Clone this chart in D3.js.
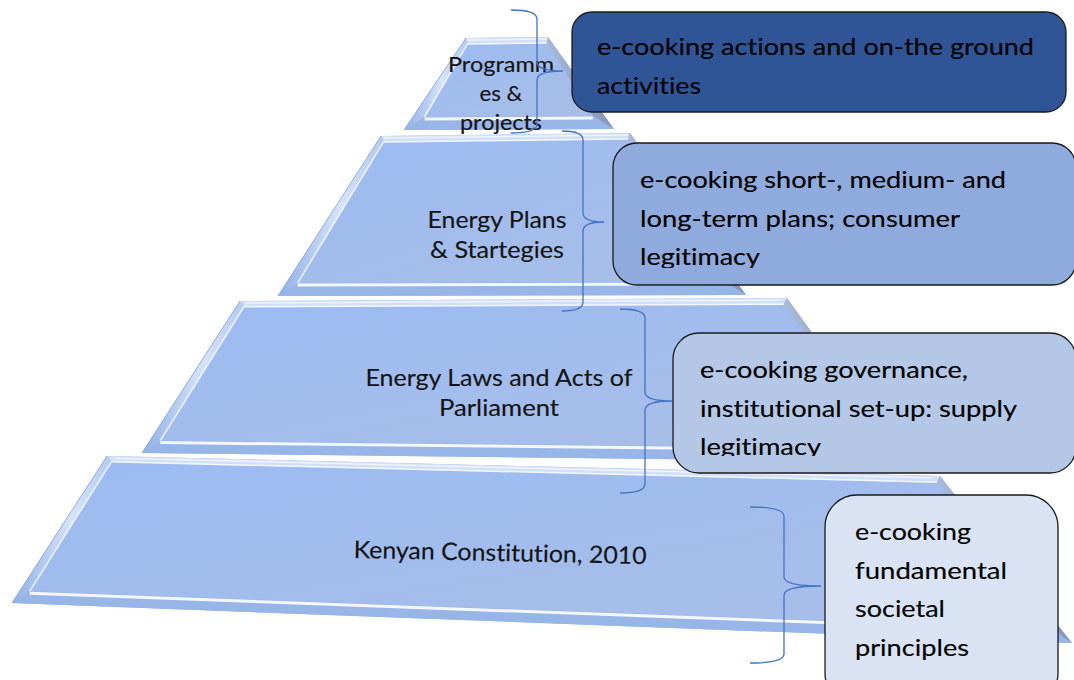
<!DOCTYPE html>
<html>
<head>
<meta charset="utf-8">
<script src="https://cdn.jsdelivr.net/npm/d3@7"></script>
<style>
  html, body { margin: 0; padding: 0; background: #fff; }
  svg { display: block; }
  text { font-family: Lato, "Open Sans", sans-serif; font-variant-ligatures: none; font-feature-settings: "liga" 0; }
</style>
</head>
<body>
<div id="chart"></div>
<script>
// ---- content ----
const tierLabels = [
  ["Programm", "es &", "projects"],
  ["Energy Plans", "& Startegies"],
  ["Energy Laws and Acts of", "Parliament"],
  ["Kenyan Constitution, 2010"]
];

const boxTexts = [
  ["e-cooking actions and on-the ground", "activities"],
  ["e-cooking short-, medium- and", "long-term plans; consumer", "legitimacy"],
  ["e-cooking governance,", "institutional set-up: supply", "legitimacy"],
  ["e-cooking", "fundamental", "societal", "principles"]
];

// ---- layout (pixels) ----
const width = 1074, height = 680;

// corners of each tier: top-left, top-right, bottom-right, bottom-left
const tierCorners = [
  [[466, 38], [548, 37], [614, 129], [404, 130]],
  [[381, 136], [630, 133], [746, 295], [278, 296]],
  [[240, 301], [787, 298], [905, 462], [142, 453]],
  [[107, 456], [940, 476], [1072, 643], [12, 603]]
];

const tierLabelLayout = [
  { cx: 501, base: 72, lineH: 29, size: 21, widths: [106, 43, 82], angle: 0 },
  { cx: 497, base: 228, lineH: 30, size: 23, widths: [139, 134], angle: 0 },
  { cx: 499, base: 386, lineH: 30, size: 23, widths: [267, 120], angle: 0 },
  { cx: 500, base: 561, lineH: 30, size: 24, widths: [293], angle: 1.2 }
];

const boxLayout = [
  { x: 572, y: 12, w: 494, h: 100, rx: 20, padX: 25, first: 43, lineH: 38.5, widths: [437, 104] },
  { x: 613, y: 143, w: 463, h: 142, rx: 24, padX: 27, first: 45, lineH: 38.5, widths: [366, 320, 120] },
  { x: 673, y: 333, w: 403, h: 140, rx: 26, padX: 27, first: 45, lineH: 38.5, widths: [268, 317, 121] },
  { x: 825, y: 495, w: 233, h: 210, rx: 32, padX: 30, first: 45, lineH: 38.5, widths: [116, 152, 90, 114] }
];
const boxFills = ["#2f5597", "#8faadc", "#b4c7e7", "#dae3f3"];

// curly braces: top end x0,y0 ; stem xs ; tip xt,ym ; bottom end y1
const braces = [
  { x0: 511, y0: 10, xs: 537, xt: 563, ym: 71, y1: 133 },
  { x0: 562, y0: 131, xs: 583, xt: 604, ym: 222, y1: 311 },
  { x0: 620, y0: 309, xs: 645, xt: 672, ym: 401, y1: 493 },
  { x0: 750, y0: 507, xs: 784, xt: 821, ym: 586, y1: 663 }
];

// ---- drawing ----
const svg = d3.select("#chart").append("svg")
  .attr("width", width)
  .attr("height", height);

const defs = svg.append("defs");

const faceGrad = defs.append("linearGradient")
  .attr("id", "face").attr("x1", 0).attr("y1", 0).attr("x2", 1).attr("y2", 1);
faceGrad.append("stop").attr("offset", "0%").attr("stop-color", "#9bbbf2");
faceGrad.append("stop").attr("offset", "100%").attr("stop-color", "#a9bee6");

const leftGrad = defs.append("linearGradient")
  .attr("id", "leftBevel").attr("x1", 0).attr("y1", 0).attr("x2", 1).attr("y2", 0);
leftGrad.append("stop").attr("offset", "0%").attr("stop-color", "#8fb0e6");
leftGrad.append("stop").attr("offset", "60%").attr("stop-color", "#d6e3f8");
leftGrad.append("stop").attr("offset", "100%").attr("stop-color", "#b3c9f0");

const rightGrad = defs.append("linearGradient")
  .attr("id", "rightBevel").attr("x1", 0).attr("y1", 0).attr("x2", 1).attr("y2", 0);
rightGrad.append("stop").attr("offset", "0%").attr("stop-color", "#a9b9d8");
rightGrad.append("stop").attr("offset", "100%").attr("stop-color", "#8596b8");

const lerp = (a, b, t) => [a[0] + (b[0] - a[0]) * t, a[1] + (b[1] - a[1]) * t];
function bil(q, u, v) {
  const top = lerp(q[0], q[1], u);
  const bot = lerp(q[3], q[2], u);
  return lerp(top, bot, v);
}
const poly = pts => "M" + pts.map(p => p.join(",")).join("L") + "Z";
const seg = (a, b) => `M${a[0]},${a[1]}L${b[0]},${b[1]}`;

const tiersG = svg.append("g").attr("class", "tiers");

tierCorners.forEach(q => {
  const w = ((q[1][0] - q[0][0]) + (q[2][0] - q[3][0])) / 2;
  const h = ((q[3][1] - q[0][1]) + (q[2][1] - q[1][1])) / 2;
  const uL = 9 / w, uR = 1 - 9 / w, vT = 6 / h, vB = 1 - 13 / h;
  const itl = bil(q, uL, vT), itr = bil(q, uR, vT), ibr = bil(q, uR, vB), ibl = bil(q, uL, vB);
  const [tl, tr, br, bl] = q;
  const g = tiersG.append("g");

  g.append("path").attr("d", poly(q)).attr("fill", "#94b2e6");
  g.append("path").attr("d", poly([tl, tr, itr, itl])).attr("fill", "#d2e0f7");
  g.append("path").attr("d", poly([tl, itl, ibl, bl])).attr("fill", "url(#leftBevel)");
  g.append("path").attr("d", poly([tr, br, ibr, itr])).attr("fill", "url(#rightBevel)");
  g.append("path").attr("d", poly([bl, ibl, ibr, br])).attr("fill", "#98b5e8");
  g.append("path").attr("d", poly([itl, itr, ibr, ibl])).attr("fill", "url(#face)");

  // bevel highlights
  g.append("path").attr("d", seg(itl, itr)).attr("stroke", "#ffffff").attr("stroke-width", 1.5).attr("opacity", 0.85);
  g.append("path").attr("d", seg(lerp(tl, tr, 0.01), lerp(tl, tr, 0.99)))
    .attr("stroke", "#eef3fc").attr("stroke-width", 1.5).attr("transform", "translate(0,2)");
  g.append("path").attr("d", seg(itl, ibl)).attr("stroke", "#ffffff").attr("stroke-width", 1.6).attr("opacity", 0.8);
  g.append("path").attr("d", seg(ibl, ibr)).attr("stroke", "#ffffff").attr("stroke-width", 3).attr("opacity", 0.9)
    .attr("transform", "translate(0,2)");
  g.append("path").attr("d", seg(tl, bl)).attr("stroke", "#7d9dd6").attr("stroke-width", 1).attr("opacity", 0.7);
});

// tier labels
const labelsG = svg.append("g").attr("class", "tier-labels");
tierLabels.forEach((lines, i) => {
  const L = tierLabelLayout[i];
  const t = labelsG.append("g")
    .attr("transform", `rotate(${L.angle},${L.cx},${L.base})`);
  lines.forEach((line, j) => {
    t.append("text")
      .attr("x", L.cx)
      .attr("y", L.base + j * L.lineH)
      .attr("text-anchor", "middle")
      .attr("font-size", L.size + "px")
      .attr("fill", "#141414")
      .attr("stroke", "#141414")
      .attr("stroke-width", 0.15)
      .attr("textLength", L.widths[j])
      .attr("lengthAdjust", "spacingAndGlyphs")
      .text(line);
  });
});

// braces
function bracePath(b) {
  const r = 9, p = d3.path();
  p.moveTo(b.x0, b.y0);
  p.quadraticCurveTo(b.xs, b.y0, b.xs, b.y0 + r);
  p.lineTo(b.xs, b.ym - r);
  p.quadraticCurveTo(b.xs, b.ym, b.xt, b.ym);
  p.quadraticCurveTo(b.xs, b.ym, b.xs, b.ym + r);
  p.lineTo(b.xs, b.y1 - r);
  p.quadraticCurveTo(b.xs, b.y1, b.x0, b.y1);
  return p.toString();
}
svg.append("g").attr("class", "braces")
  .selectAll("path")
  .data(braces)
  .join("path")
  .attr("d", bracePath)
  .attr("fill", "none")
  .attr("stroke", "#4472c4")
  .attr("stroke-width", 1.3);

// boxes
const boxesG = svg.append("g").attr("class", "boxes");
boxTexts.forEach((lines, i) => {
  const B = boxLayout[i];
  defs.append("clipPath").attr("id", "clip" + i)
    .append("rect").attr("x", B.x).attr("y", B.y).attr("width", B.w).attr("height", B.h - 17);

  boxesG.append("rect")
    .attr("x", B.x).attr("y", B.y)
    .attr("width", B.w).attr("height", B.h)
    .attr("rx", B.rx).attr("ry", B.rx)
    .attr("fill", boxFills[i])
    .attr("stroke", "#1a1a1a")
    .attr("stroke-width", 1.3);

  const tg = boxesG.append("g").attr("clip-path", `url(#clip${i})`);
  lines.forEach((line, j) => {
    tg.append("text")
      .attr("x", B.x + B.padX)
      .attr("y", B.y + B.first + j * B.lineH)
      .attr("font-size", "24px")
      .attr("fill", "#000")
      .attr("stroke", "#000")
      .attr("stroke-width", 0.15)
      .attr("textLength", B.widths[j])
      .attr("lengthAdjust", "spacingAndGlyphs")
      .text(line);
  });
});
</script>
</body>
</html>
